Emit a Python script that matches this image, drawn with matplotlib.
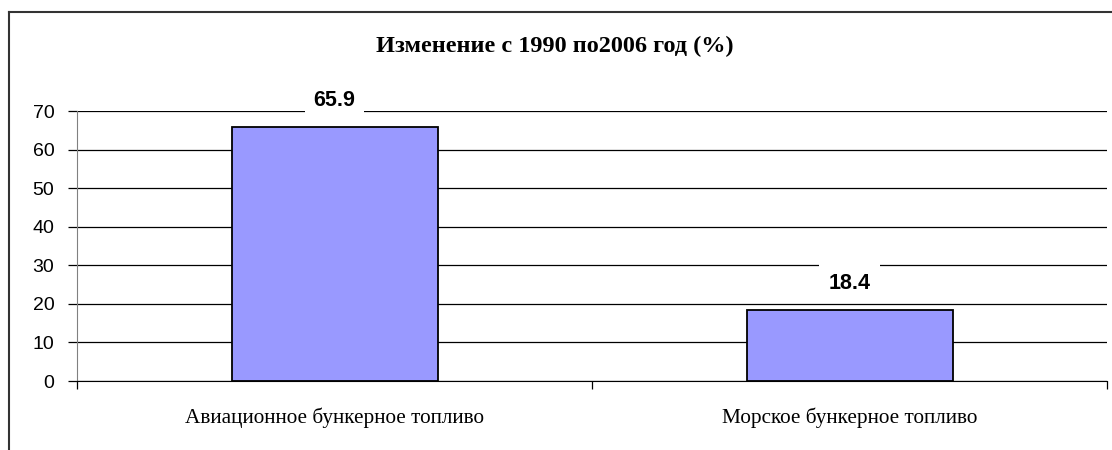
import matplotlib.pyplot as plt
from matplotlib.lines import Line2D

# Chart data
categories = ['Авиационное бункерное топливо', 'Морское бункерное топливо']
values = [65.9, 18.4]
y_ticks = [0, 10, 20, 30, 40, 50, 60, 70]
title = 'Изменение с 1990 по2006 год (%)'

W, H = 1112, 450
fig = plt.figure(figsize=(W / 100, H / 100), dpi=100)

# Outer chart-area frame (cut off at right and bottom)
fig.add_artist(Line2D([9 / W, 1.0], [1 - 12 / H, 1 - 12 / H], transform=fig.transFigure,
                      color='#333333', linewidth=1.5))
fig.add_artist(Line2D([9 / W, 9 / W], [1 - 12 / H, 0.0], transform=fig.transFigure,
                      color='#333333', linewidth=1.5))

ax = fig.add_axes([77 / W, 1 - 381 / H, (1107 - 77) / W, (381 - 111) / H])

x = list(range(len(categories)))
bars = ax.bar(x, values, width=0.40, color='#9999FF', edgecolor='black', linewidth=1.3, zorder=3)

ax.set_xlim(-0.5, len(categories) - 0.5)
ax.set_ylim(0, 70)
ax.set_yticks(y_ticks)
ax.set_yticklabels([str(t) for t in y_ticks], fontfamily='Liberation Sans', fontsize=14)
ax.yaxis.grid(True, color='black', linewidth=0.9, zorder=0)
ax.set_axisbelow(True)

# Category boundary ticks (major) and centred labels (minor)
ax.set_xticks([i - 0.5 for i in range(len(categories) + 1)])
ax.set_xticklabels([])
ax.set_xticks(x, minor=True)
ax.set_xticklabels(categories, minor=True, fontfamily='Liberation Serif', fontsize=15.3)
ax.tick_params(axis='x', which='major', length=5.5, width=0.9, direction='out', color='black')
ax.tick_params(axis='x', which='minor', length=0, pad=19)
ax.tick_params(axis='y', length=6.3, width=0.9, direction='out', pad=10, color='black')

ax.spines['top'].set_visible(False)
ax.spines['right'].set_visible(False)
ax.spines['left'].set_color('#808080')
ax.spines['bottom'].set_color('black')

# Value labels with white boxes over the gridlines
for xi, v in zip(x, values):
    ax.annotate(f'{v}', xy=(xi, v), xytext=(0, 19), textcoords='offset points',
                ha='center', va='center', fontfamily='Liberation Sans', fontweight='bold',
                fontsize=15.5, zorder=5,
                bbox=dict(boxstyle='square,pad=0.42', facecolor='white', edgecolor='none'))

fig.text(555 / W, 1 - 46 / H, title, ha='center', va='center',
         fontfamily='Liberation Serif', fontweight='bold', fontsize=17.5)

fig.savefig('out.png', dpi=100)
